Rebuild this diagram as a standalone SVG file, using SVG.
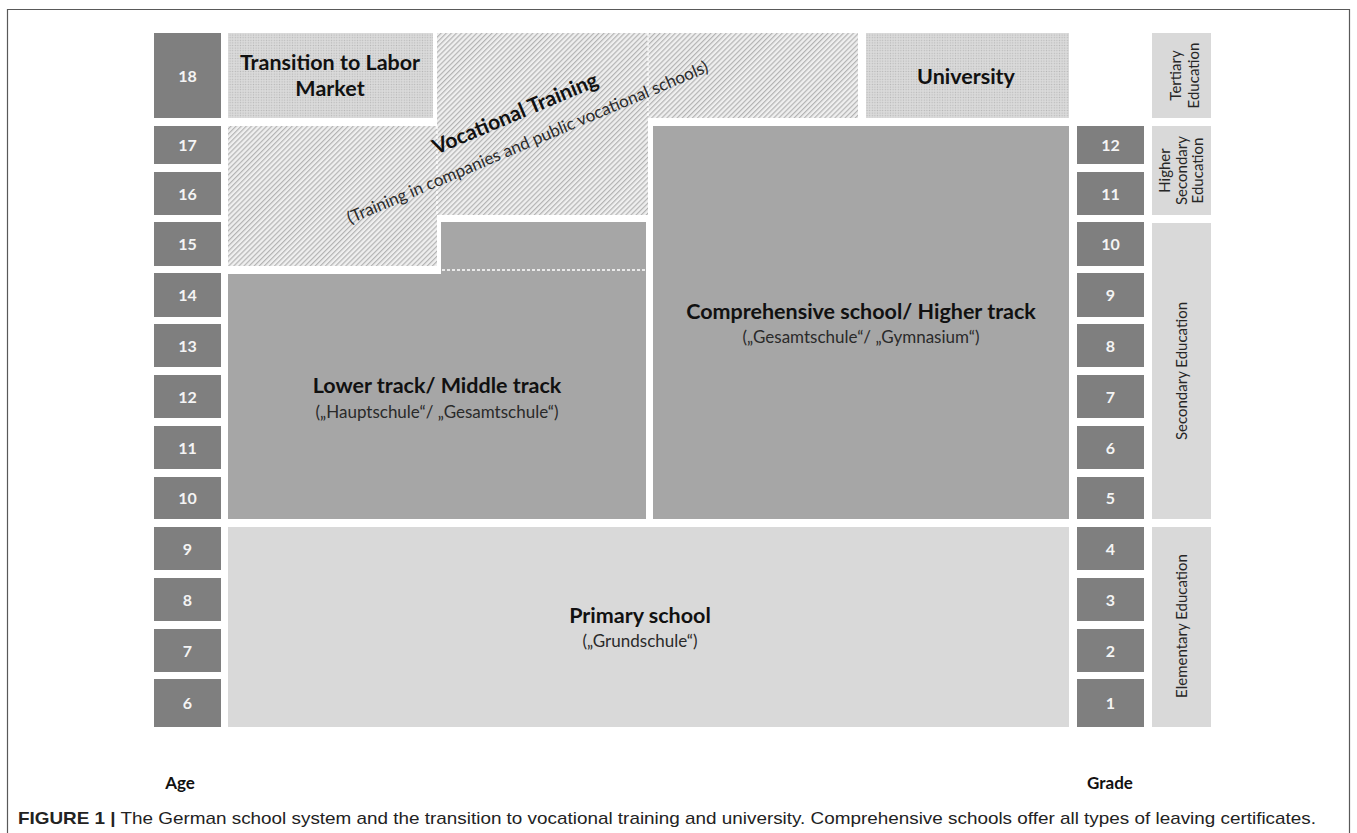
<svg xmlns="http://www.w3.org/2000/svg" width="1357" height="833" viewBox="0 0 1357 833">
<style>
.dk{fill:#7f7f7f}
.mid{fill:#a6a6a6}
.lt{fill:#d9d9d9}
.num{font-family:Lato,"Liberation Sans",sans-serif;font-weight:bold;font-size:16px;fill:#f4f4f4;text-anchor:middle}
.ttl{font-family:Lato,"Liberation Sans",sans-serif;font-weight:bold;font-size:21.5px;fill:#111;text-anchor:middle}
.sub{font-family:Lato,"Liberation Sans",sans-serif;font-size:17px;fill:#2a2a2a;text-anchor:middle}
.cat{font-family:Lato,"Liberation Sans",sans-serif;font-size:15px;fill:#262626;text-anchor:middle}
.axis{font-family:Lato,"Liberation Sans",sans-serif;font-weight:bold;font-size:17px;fill:#111;text-anchor:middle}
.dash{stroke:#ffffff;stroke-width:1.3;stroke-dasharray:3 2;fill:none}
</style>
<defs>
<pattern id="hatch" width="3.6" height="3.6" patternUnits="userSpaceOnUse" patternTransform="rotate(45)">
<rect width="3.6" height="3.6" fill="#efefef"/>
<rect width="1.2" height="3.6" fill="#b3b3b3"/>
</pattern>
<pattern id="dots" width="2.6" height="2.6" patternUnits="userSpaceOnUse">
<rect width="2.6" height="2.6" fill="#dadada"/>
<circle cx="1.3" cy="1.3" r="0.65" fill="#b6b6b6"/>
</pattern>
</defs>
<rect width="1357" height="833" fill="#ffffff"/>
<path d="M7.5,833 V9.5 H1349.5 V833" fill="none" stroke="#595959" stroke-width="1.2"/>

<g id="age-column">
<rect class="dk" x="154" y="33" width="67" height="85"/><text class="num" x="187.5" y="81.5">18</text>
<rect class="dk" x="154" y="126" width="67" height="38"/><text class="num" x="187.5" y="150.5">17</text>
<rect class="dk" x="154" y="172" width="67" height="43"/><text class="num" x="187.5" y="199.5">16</text>
<rect class="dk" x="154" y="222" width="67" height="44"/><text class="num" x="187.5" y="249.5">15</text>
<rect class="dk" x="154" y="273" width="67" height="44"/><text class="num" x="187.5" y="300.5">14</text>
<rect class="dk" x="154" y="324" width="67" height="43"/><text class="num" x="187.5" y="351.5">13</text>
<rect class="dk" x="154" y="375" width="67" height="43"/><text class="num" x="187.5" y="402.5">12</text>
<rect class="dk" x="154" y="426" width="67" height="43"/><text class="num" x="187.5" y="453.5">11</text>
<rect class="dk" x="154" y="477" width="67" height="42"/><text class="num" x="187.5" y="503.5">10</text>
<rect class="dk" x="154" y="527" width="67" height="43"/><text class="num" x="187.5" y="554.5">9</text>
<rect class="dk" x="154" y="578" width="67" height="43"/><text class="num" x="187.5" y="605.5">8</text>
<rect class="dk" x="154" y="629" width="67" height="43"/><text class="num" x="187.5" y="656.5">7</text>
<rect class="dk" x="154" y="679" width="67" height="48"/><text class="num" x="187.5" y="708.5">6</text>
<text class="axis" x="180" y="789">Age</text>
</g>

<g id="grade-column">
<rect class="dk" x="1077" y="126" width="67" height="38"/><text class="num" x="1110.5" y="150.5">12</text>
<rect class="dk" x="1077" y="172" width="67" height="43"/><text class="num" x="1110.5" y="199.5">11</text>
<rect class="dk" x="1077" y="222" width="67" height="44"/><text class="num" x="1110.5" y="249.5">10</text>
<rect class="dk" x="1077" y="273" width="67" height="44"/><text class="num" x="1110.5" y="300.5">9</text>
<rect class="dk" x="1077" y="324" width="67" height="43"/><text class="num" x="1110.5" y="351.5">8</text>
<rect class="dk" x="1077" y="375" width="67" height="43"/><text class="num" x="1110.5" y="402.5">7</text>
<rect class="dk" x="1077" y="426" width="67" height="43"/><text class="num" x="1110.5" y="453.5">6</text>
<rect class="dk" x="1077" y="477" width="67" height="42"/><text class="num" x="1110.5" y="503.5">5</text>
<rect class="dk" x="1077" y="527" width="67" height="43"/><text class="num" x="1110.5" y="554.5">4</text>
<rect class="dk" x="1077" y="578" width="67" height="43"/><text class="num" x="1110.5" y="605.5">3</text>
<rect class="dk" x="1077" y="629" width="67" height="43"/><text class="num" x="1110.5" y="656.5">2</text>
<rect class="dk" x="1077" y="679" width="67" height="48"/><text class="num" x="1110.5" y="708.5">1</text>
<text class="axis" x="1110" y="789">Grade</text>
</g>

<g id="tertiary-education">
<rect class="lt" x="1152" y="33" width="59" height="85"/>
<text class="cat" transform="translate(1181,75.5) rotate(-90)"><tspan x="0" y="0">Tertiary</tspan><tspan x="0" y="18">Education</tspan></text>
</g>
<g id="higher-secondary-education">
<rect class="lt" x="1152" y="126" width="59" height="89"/>
<text class="cat" transform="translate(1181,170.5) rotate(-90)"><tspan x="0" y="-11">Higher</tspan><tspan x="0" y="6">Secondary</tspan><tspan x="0" y="22">Education</tspan></text>
</g>
<g id="secondary-education">
<rect class="lt" x="1152" y="223" width="59" height="296"/>
<text class="cat" transform="translate(1181,371) rotate(-90)" y="6">Secondary Education</text>
</g>
<g id="elementary-education">
<rect class="lt" x="1152" y="527" width="59" height="200"/>
<text class="cat" transform="translate(1181,626) rotate(-90)" y="6">Elementary Education</text>
</g>

<g id="transition-labor-market">
<rect x="228" y="33" width="205" height="85" fill="url(#dots)"/>
<text class="ttl"><tspan x="330" y="70">Transition to Labor</tspan><tspan x="330" y="96">Market</tspan></text>
</g>

<g id="university">
<rect x="866" y="33" width="203" height="85" fill="url(#dots)"/>
<text class="ttl" x="966" y="84">University</text>
</g>

<g id="vocational-training">
<path d="M228,126 H437 V33 H858 V118 H648 V215 H437 V266 H228 Z" fill="url(#hatch)"/>
<path class="dash" d="M437,126 V215 M648,33 V118"/>
<text class="ttl" transform="translate(518,120) rotate(-23)" x="0" y="0" style="font-size:21px">Vocational Training</text>
<text class="sub" transform="translate(518,120) rotate(-23)" x="0" y="30">(Training in companies and  public vocational schools)</text>
</g>

<g id="lower-middle-track">
<path class="mid" d="M228,274 H441 V222 H646 V519 H228 Z"/>
<path class="dash" d="M437,270 H647"/>
<text class="ttl" x="437" y="393">Lower track/ Middle track</text>
<text class="sub" x="437" y="418">(„Hauptschule“/ „Gesamtschule“)</text>
</g>

<g id="comprehensive-higher-track">
<rect class="mid" x="653" y="126" width="416" height="393"/>
<text class="ttl" x="861" y="319">Comprehensive school/ Higher track</text>
<text class="sub" x="861" y="343">(„Gesamtschule“/ „Gymnasium“)</text>
</g>

<g id="primary-school">
<rect class="lt" x="228" y="527" width="841" height="200"/>
<text class="ttl" x="640" y="623">Primary school</text>
<text class="sub" x="640" y="647">(„Grundschule“)</text>
</g>

<g id="connectors"></g>

<text x="18" y="824" font-family="'Liberation Sans',Arial,sans-serif" font-size="17" fill="#222" textLength="1298" lengthAdjust="spacingAndGlyphs"><tspan font-weight="bold">FIGURE 1 |</tspan> The German school system and the transition to vocational training and university. Comprehensive schools offer all types of leaving certificates.</text>
</svg>
